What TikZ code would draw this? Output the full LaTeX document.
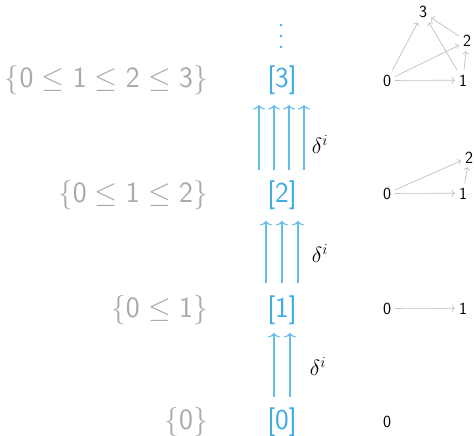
\RequirePackage{fix-cm}
\documentclass[tikz,border=0pt]{standalone}
\usepackage{fontspec}
\usetikzlibrary{arrows.meta,calc}
\definecolor{lgray}{RGB}{170,170,172}
\definecolor{sblue}{RGB}{64,172,228}
\definecolor{agray}{RGB}{192,192,192}
\begin{document}
\begin{tikzpicture}[x=1pt,y=-1pt,
  lft/.style={anchor=base east,text=lgray,inner sep=0pt,font=\sffamily\fontsize{29.5}{34}\selectfont},
  mid/.style={anchor=base,text=sblue,inner sep=0pt,font=\sffamily\fontsize{29}{34}\selectfont},
  rgt/.style={anchor=base,inner sep=3pt,font=\sffamily\fontsize{17}{20}\selectfont},
  dlab/.style={font=\fontsize{22}{26}\selectfont},
  barrow/.style={draw=sblue!80,line width=1.1pt,-{To[length=4.5pt,width=12pt]}},
  garrow/.style={draw=agray,line width=0.7pt,-{To[length=3pt,width=7pt]},shorten >=1pt,shorten <=1pt}]
\useasboundingbox (0,0) rectangle (474,436);
% left labels
\node[lft] (L3) at (208,88) {$\{\mathsf{0}\leq\mathsf{1}\leq\mathsf{2}\leq\mathsf{3}\}$};
\node[lft] (L2) at (208,202) {$\{\mathsf{0}\leq\mathsf{1}\leq\mathsf{2}\}$};
\node[lft] (L1) at (208,317) {$\{\mathsf{0}\leq\mathsf{1}\}$};
\node[lft] (L0) at (208,429) {$\{\mathsf{0}\}$};
% middle
\node[mid] (n3) at (282,88) {[3]};
\node[mid] (n2) at (282,202) {[2]};
\node[mid] (n1) at (282,317) {[1]};
\node[mid] (n0) at (282,429) {[0]};
\foreach \yy in {25,36,47} \fill[sblue] (281,\yy) circle (1.4pt);
% arrows
\foreach \dx in {-8,8}
  \draw[barrow] ($(n0.base)+(\dx,-32)$) -- ($(n1.base)+(\dx,16)$);
\foreach \dx in {-16,0,16}
  \draw[barrow] ($(n1.base)+(\dx,-34)$) -- ($(n2.base)+(\dx,19)$);
\foreach \dx in {-23,-8,7,22}
  \draw[barrow] ($(n2.base)+(\dx,-32)$) -- ($(n3.base)+(\dx,17)$);
\node[dlab] (d1) at (318,366) {$\delta^i$};
\node[dlab] (d2) at (320,253) {$\delta^i$};
\node[dlab] (d3) at (320,144) {$\delta^i$};
% right graphs
\node[rgt] (a0) at (387,427) {0};
\node[rgt] (b0) at (387,314) {0};
\node[rgt] (b1) at (463,314) {1};
\draw[garrow] (b0) -- (b1);
\node[rgt] (c0) at (387,199) {0};
\node[rgt] (c1) at (463,199) {1};
\node[rgt] (c2) at (469,163) {2};
\draw[garrow] (c0) -- (c1);
\draw[garrow] (c0) -- (c2);
\draw[garrow] (c1) -- (c2);
\node[rgt] (e0) at (387,86) {0};
\node[rgt] (e1) at (463,86) {1};
\node[rgt] (e2) at (467,47) {2};
\node[rgt] (e3) at (423,18) {3};
\draw[garrow] (e0) -- (e1);
\draw[garrow] (e0) -- (e2);
\draw[garrow] (e0) -- (e3);
\draw[garrow] (e1) -- (e2);
\draw[garrow] (e1) -- (e3);
\draw[garrow] (e2) -- (e3);
\end{tikzpicture}
\end{document}
